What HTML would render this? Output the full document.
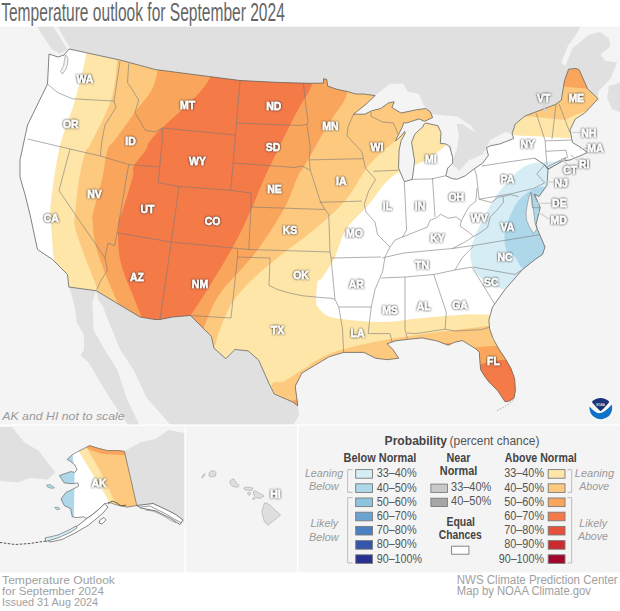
<!DOCTYPE html>
<html><head><meta charset="utf-8"><style>
html,body{margin:0;padding:0;background:#fff;}
body{width:620px;height:611px;position:relative;overflow:hidden;font-family:"Liberation Sans",sans-serif;}
.t{position:absolute;white-space:nowrap;}
</style></head><body>
<svg width="620" height="611" viewBox="0 0 620 611" style="position:absolute;left:0;top:0"><defs><clipPath id="us"><polygon points="49,54 58,57 64,55 69,49 120,60 155,69.5 205,76 240,80.5 280,82.5 310,83.3 323.5,83.1 323.5,78.7 326.8,79.5 327.6,86 336.5,89.2 347.7,91.6 355.8,94 363.9,94 375.2,95.6 365,105 353.5,114.2 364.8,114.2 371.6,110.8 380.6,108.5 388.5,102.9 394.2,101.8 391.9,107.4 401,113 416.7,109.7 425.8,108.5 430.3,111.9 432.6,117.6 424.5,121.3 418.9,118.9 411.6,121.3 406.8,122.9 403.5,122.9 402.7,126.1 399.5,132.6 395.5,140.6 397.1,139.8 401.1,135.8 404.8,131.4 405.2,133.4 401.1,140.6 399.9,146.3 399.1,150 398.5,167.9 404.3,181.7 412.3,179.4 414.6,161 411.6,142.3 414.8,134.2 418.9,130.2 422.9,126.9 423.7,124.5 426,123 438,125.8 441,132.6 440.3,143.4 445.8,143.9 449.7,146.8 452.6,157.4 452.6,163.2 447.7,168.1 445.8,175.8 452.6,178.7 457.4,179.2 465.2,175.8 473.9,169 482.6,163.2 488.4,155.5 486.5,147.7 490.3,145.8 500,143.9 513.7,138.5 512.1,133.7 515.3,124 525,116 555.5,104.4 561.3,100.3 564.5,80.6 568.6,69.2 576,68.4 579.3,70 587.5,88.8 598.1,98.6 589.1,108.5 584.2,113.4 575.2,119.1 570,130 572.5,142.5 580,147 587.5,152.5 582,155 570,160 562.5,161 548,169.4 544.7,164.8 548,169.4 547,185.2 539,196.5 534.5,194.2 540.2,207.7 536,224.5 537.5,229.5 545,247 542.5,254.5 535,259.5 522.5,269.5 505,289.5 492.5,307 488.9,320 489.6,328.8 493.3,339.2 499.2,349.5 505.1,358.3 511,368.6 514.7,379 515.4,390.7 514,398.1 509.5,401 505.1,401.8 497.7,390.7 491.8,384.8 488.9,381.9 484.5,376 480.8,370.1 480.1,364.2 479.3,352.4 475.6,348.7 469.7,345.1 462.4,340.6 455,342.1 448.1,345.2 436.5,340.8 422,337.9 407.4,339.4 395.8,340.8 387.1,343.7 392.9,349.5 398.7,358.2 387.1,359.7 375.5,358.2 363.9,352.4 343.6,352.4 329,356.8 314.5,365.5 302,373 295.2,386.2 297.8,405.8 292.6,401.9 274.3,394 269,383.5 258.6,360 248,350.8 235,349.5 225.8,358.7 214,348.2 211.4,336.4 201,326 190.5,315.5 172.5,317 160,319.5 155,319.5 140,317 96.25,290.75 68.75,287 67.5,274.5 60,267 52.5,259.5 37.5,249.5 30,214.5 25,194.5 20,177 20,160 27.5,125 47.5,84"/></clipPath><filter id="halo" x="-0.3" y="-0.5" width="1.6" height="2"><feGaussianBlur in="SourceAlpha" stdDeviation="0.9" result="b"/><feComponentTransfer in="b" result="b2"><feFuncA type="linear" slope="1.8"/></feComponentTransfer><feFlood flood-color="#333" flood-opacity="0.75"/><feComposite in2="b2" operator="in" result="s"/><feMerge><feMergeNode in="s"/><feMergeNode in="SourceGraphic"/></feMerge></filter><clipPath id="map"><rect x="0" y="26.8" width="620" height="398"/></clipPath></defs><rect x="0" y="0" width="620" height="611" fill="#ffffff"/><rect x="0" y="26.8" width="620" height="546" fill="#f4f4f4"/><g clip-path="url(#map)"><polygon points="57.4,26 65.2,40.3 70.3,48 69,49 120,60 155,69.5 205,76 240,80.5 280,82.5 310,83.3 323.5,83.1 323.5,78.7 326.8,79.5 327.6,86 336.5,89.2 347.7,91.6 355.8,94 363.9,94 375.2,95.6 380,110 440,125 446,176 465,170 486,156 500,142 513,138 515.3,124 525,116 555.5,104.4 561.3,100.3 564.5,80.6 568.6,69.2 561.3,62.6 567.8,46.3 576,34.8 580.9,26" fill="#e0e0e0" /><polygon points="589,34.8 600,32 608.7,38.1 610.4,46.3 600.6,54.5 605.5,61 617,62.6 610.4,79 599,90.5 597.3,97 587.5,88.8 579.3,70 576,68.4 568.6,69.2 564.5,67.6 572.7,47.9" fill="#e0e0e0" /><polygon points="609,86 616,84 620,82 620,112 612,109 607,98" fill="#e0e0e0" /><polygon points="36.8,26 53,26 62.6,41.6 67.7,49.4 60,54 52.3,49.4 45.8,40.3" fill="#e0e0e0" /><polygon points="353.5,114.2 365,105 375.2,95.6 389.7,83.7 403.2,83.7 407.7,91.6 419,93.9 423.5,105.1 430.3,111.9 432.6,117.6 425.8,108.5 416.7,109.7 401,113 391.9,107.4 394.2,101.8 388.5,102.9 380.6,108.5 371.6,110.8 364.8,114.2" fill="#f4f4f4" /><polygon points="402.7,126.1 406.8,122.9 411.6,121.3 418.9,118.9 424.5,121.3 423.7,124.5 422.9,126.9 418.9,130.2 414.8,134.2 411.6,142.3 414.6,161 412.3,179.4 404.3,181.7 398.5,167.9 399.1,150 399.9,146.3 401.1,140.6 405.2,133.4 404.8,131.4 401.1,135.8 397.1,139.8 395.5,140.6 399.5,132.6" fill="#f4f4f4" /><polygon points="424.5,121.3 432.6,117.6 432.6,114.2 457.4,116.4 470.9,125.5 475.4,132.2 462,124 456.5,124 458.9,135.3 457.3,148.2 450.8,164.4 446,175.6 449.2,167.6 453.2,159.5 450.8,145 440.3,143.4 441,132.6 438,125.8 426.5,122.9" fill="#f4f4f4" /><polygon points="445.8,175.8 452.6,178.7 457.4,179.2 465.2,175.8 473.9,169 482.6,163.2 488.4,155.5 486.5,147.7 482.6,154.5 469,160.3 459.4,171 452.6,164.2 447.7,168.1" fill="#f4f4f4" /><polygon points="486.5,147.7 490,140 505.6,132.1 512.1,133.7 513.7,138.5 500,143.9 490.3,145.8" fill="#f4f4f4" /><polygon points="69,287.1 96.1,290.3 95.5,292.9 92.3,301.9 92.9,312.3 93.5,330 104.8,349.7 117.4,370 126.3,397.4 138.4,423.2 140,426 129,426 127,423.2 109.4,397.4 93.2,370 88,362 80.3,355.5 84,350 84,335 76.5,322 75.5,312.3 72.9,299.4" fill="#e0e0e0" /><polygon points="96.25,290.75 140,317 155,319.5 160,319.5 172.5,317 190.5,315.5 201,326 211.4,336.4 214,348.2 225.8,358.7 235,349.5 248,350.8 258.6,360 269,383.5 274.3,394 292.6,401.9 297.8,405.8 299,415 293,426 171,426 169,423.2 146.5,397.4 133.5,370 120.3,349.7 112,330 108,320 102.6,305.8 98,300" fill="#e0e0e0" /></g><g clip-path="url(#us)"><rect x="0" y="0" width="620" height="430" fill="#fee6a9"/><path d="M86,30 C100.3,34.2 87.8,43.3 86,55 C84.2,66.7 78.9,86.3 75,100 C71.1,113.7 65.2,128.7 62.5,137 C59.8,145.3 60.4,143.3 59,150 C57.6,156.7 55.7,167.0 54.2,177 C52.8,187.0 50.8,201.7 50.3,210 C49.8,218.3 50.7,218.8 51.25,227 C51.8,235.2 52.8,252.0 53.75,259.5 C54.7,267.0 66.0,269.9 57,272 C48.0,274.1 9.5,312.3 0,272 C-9.5,231.7 -14.3,70.3 0,30 C14.3,-10.3 71.7,25.8 86,30 Z" fill="#ffffff"/><path d="M620,137 C628.5,166.3 641.3,284.4 620,314 C598.7,343.6 517.8,314.4 492,314.5 C466.2,314.6 476.6,313.9 465,314.5 C453.4,315.1 435.8,316.8 422.5,318 C409.2,319.2 397.9,321.8 385,322 C372.1,322.2 354.7,320.6 345,319.5 C335.3,318.4 331.1,317.6 326.6,315.5 C322.1,313.4 319.7,309.2 318,307 C316.3,304.8 316.3,306.6 316.2,302.4 C316.1,298.2 316.6,285.9 317.5,282 C318.4,278.1 318.6,282.8 321.4,278.8 C324.2,274.8 330.4,266.0 334.5,257.9 C338.6,249.8 340.1,238.9 345.8,230 C351.5,221.1 361.1,213.4 368.7,204.6 C376.3,195.8 381.8,184.7 391.7,177 C401.6,169.3 419.0,164.2 428.3,158.7 C437.6,153.2 440.8,149.0 447.7,144.2 C454.6,139.4 459.3,131.5 470,130 C480.7,128.5 500.1,133.9 511.8,135 C523.5,136.1 530.5,136.0 540,136.5 C549.5,137.0 555.5,137.9 568.8,138 C582.1,138.1 611.5,107.7 620,137 Z" fill="#ffffff"/><path d="M100,30 C158.7,30.0 410.0,16.7 470,30 C530.0,43.3 465.0,95.4 460,110 C455.0,124.6 446.1,115.1 440,117.5 C433.9,119.9 431.0,120.6 423.7,124.4 C416.4,128.2 405.4,133.5 396.2,140.4 C387.0,147.3 377.1,155.7 368.7,165.6 C360.3,175.5 355.0,189.3 345.8,200 C336.6,210.7 323.8,221.3 313.7,230 C303.6,238.7 294.8,244.2 285,252 C275.2,259.8 263.8,268.6 255,277 C246.2,285.4 238.3,293.4 232.4,302.4 C226.5,311.4 222.4,323.8 219.3,331.2 C216.2,338.6 217.2,342.2 214,347 C210.8,351.8 219.0,367.8 200,360 C181.0,352.2 117.1,311.8 100,300 C82.9,288.2 100.0,296.7 97.5,289.5 C95.0,282.3 88.8,267.4 85,257 C81.2,246.6 76.6,234.8 75,227 C73.4,219.2 74.8,218.3 75.5,210 C76.2,201.7 77.7,187.0 79.4,177 C81.2,167.0 84.2,155.3 86,150 C87.8,144.7 85.8,153.3 90,145 C94.2,136.7 106.4,114.7 111,100 C115.6,85.3 116.3,68.7 117.5,57 C118.7,45.3 120.9,34.5 118,30 C115.1,25.5 41.3,30.0 100,30 Z" fill="#fdc97e"/><path d="M150,30 C183.0,30.0 325.0,19.8 358,30 C391.0,40.2 352.2,76.5 348,91 C343.8,105.5 337.3,109.7 333,117 C328.7,124.3 326.7,126.9 322,135 C317.3,143.1 308.7,158.6 304.6,165.6 C300.5,172.6 300.8,170.1 297.5,177 C294.2,183.9 291.9,194.5 285,207 C278.1,219.5 266.9,237.4 256,252 C245.1,266.6 228.0,281.7 219.3,294.5 C210.6,307.3 206.8,321.0 203.6,328.6 C200.4,336.2 208.9,338.1 200,340 C191.1,341.9 162.1,344.2 150,340 C137.9,335.8 132.9,320.8 127.5,314.5 C122.1,308.2 122.5,312.4 117.5,302 C112.5,291.6 101.7,265.7 97.5,252 C93.3,238.3 93.1,227.0 92.5,220 C91.9,213.0 92.2,217.2 93.9,210 C95.6,202.8 100.3,187.0 102.6,177 C104.8,167.0 105.3,156.2 107.4,150 C109.5,143.8 110.4,146.3 115,140 C119.6,133.7 128.3,121.7 135,112 C141.7,102.3 150.8,95.7 155,82 C159.2,68.3 160.8,38.7 160,30 C159.2,21.3 117.0,30.0 150,30 Z" fill="#faa55c"/><path d="M200,30 C219.2,22.1 306.3,21.2 325,30 C343.7,38.8 316.4,70.5 312.3,83 C308.2,95.5 304.4,97.8 300.6,105 C296.8,112.2 295.5,114.0 289.6,126 C283.7,138.0 271.6,162.6 265,177 C258.4,191.4 255.7,200.0 250,212.3 C244.3,224.6 240.5,233.8 230.6,251 C220.7,268.2 200.3,302.3 190.5,315.5 C180.7,328.7 178.8,327.6 172,330 C165.2,332.4 156.6,335.9 150,330 C143.4,324.1 137.5,306.2 132.5,294.5 C127.5,282.8 122.3,271.1 120,259.5 C117.7,247.9 117.9,233.4 118.4,225.2 C118.9,216.9 120.5,218.0 122.9,210 C125.3,202.0 130.8,184.4 132.6,177 C134.4,169.6 131.7,170.3 133.9,165.8 C136.1,161.3 142.5,155.1 146,150 C149.5,144.9 144.3,147.1 155,135 C165.7,122.9 202.5,95.0 210,77.5 C217.5,60.0 180.8,37.9 200,30 Z" fill="#f47a48"/><path d="M290,420 C286.9,414.4 272.5,392.7 271.6,386.2 C270.7,379.7 280.0,383.5 284.7,381 C289.4,378.5 292.6,375.8 300,371.3 C307.4,366.8 316.9,358.7 329,353.9 C341.1,349.1 358.1,345.4 372.6,342.3 C387.1,339.2 399.2,337.4 416.1,335 C433.0,332.6 461.5,329.0 474.2,327.7 C486.9,326.4 489.4,324.9 492.5,327 C495.6,329.1 490.4,337.0 492.5,340 C494.6,343.0 500.4,335.0 505,345 C509.6,355.0 555.8,387.5 520,400 C484.2,412.5 328.3,416.7 290,420 C251.7,423.3 293.1,425.6 290,420 Z" fill="#fdc97e"/><polygon points="285,420 290,401.9 299,398 305,390 320,380 330,370 285,420" fill="#faa55c" /><path d="M440,348 C444.9,336.0 462.3,348.2 469.7,348 C477.1,347.8 478.9,346.9 484.5,346.5 C490.1,346.1 496.0,346.1 503.6,345.8 C511.2,345.6 525.6,332.6 530,345 C534.4,357.4 545.0,407.5 530,420 C515.0,432.5 455.0,432.0 440,420 C425.0,408.0 435.1,360.0 440,348 Z" fill="#faa55c"/><path d="M440,364.5 C446.6,355.2 470.7,364.7 479.3,364.2 C487.9,363.7 487.5,362.0 491.8,361.3 C496.1,360.6 498.7,360.2 505.1,359.8 C511.5,359.4 525.9,349.0 530,359 C534.1,369.0 545.0,409.8 530,420 C515.0,430.2 455.0,429.2 440,420 C425.0,410.8 433.4,373.8 440,364.5 Z" fill="#f47a48"/><polygon points="520,110 525,116 565,120 575,115 620,100 620,30 520,30" fill="#fdc97e" /><polygon points="555,30 620,30 620,89 587.5,88.8 562.9,86.4 555,86" fill="#faa55c" /><path d="M554.8,161.5 C547.8,162.3 535.6,161.4 527.7,164.8 C519.8,168.2 513.0,175.9 507.2,182 C501.4,188.1 496.9,194.7 492.8,201.2 C488.7,207.7 485.7,214.2 482.4,220.8 C479.1,227.4 475.2,234.1 473.2,240.5 C471.2,246.9 469.5,253.4 470.6,259.5 C471.7,265.6 474.3,272.0 480,277 C485.7,282.0 496.7,288.2 505,289.5 C513.3,290.8 520.8,293.2 530,285 C539.2,276.8 551.7,257.5 560,240 C568.3,222.5 578.3,193.3 580,180 C581.7,166.7 574.2,163.1 570,160 C565.8,156.9 561.8,160.7 554.8,161.5 Z" fill="#d6edf5"/><path d="M545.8,187.4 C541.2,185.7 537.2,187.1 532.3,189.7 C527.4,192.3 521.0,196.4 516.5,203.2 C512.0,210.0 506.9,222.5 505.2,230.3 C503.5,238.1 504.7,245.6 506.3,250 C507.9,254.4 511.9,253.8 515,257 C518.1,260.2 520.0,269.0 525,269.5 C530.0,270.0 539.2,271.6 545,260 C550.8,248.4 559.9,212.1 560,200 C560.1,187.9 550.4,189.1 545.8,187.4 Z" fill="#aed8ea"/><polygon points="65.5,55 68,58 67.5,64 66,69 62.5,74 60.5,71.5 63.5,66 64.5,60" fill="#f4f4f4" stroke="#777" stroke-width="0.5"/><polygon points="547,167 555,163 566,157.5 564.5,159.8 556,165 548,169" fill="#d6edf5" stroke="#666" stroke-width="0.6"/><polygon points="530.5,192.5 528.5,199 527,206 526,213 526.5,220 529.5,227 533.5,233.5 537,229 535,223 534,215 533,207 532,199" fill="#f4f4f4" stroke="#777" stroke-width="0.5"/><polygon points="533.5,194.5 541,197.5 539,201 536,199.5" fill="#f4f4f4" stroke="#777" stroke-width="0.5"/><polyline points="47.5,84 57.5,92.5 72.5,98.75 112.5,101 114,101" fill="none" stroke="#7a7a7a" stroke-width="0.6" stroke-linejoin="round" /><polyline points="120,61 114,101" fill="none" stroke="#7a7a7a" stroke-width="0.6" stroke-linejoin="round" /><polyline points="114,101 116,107.5 105,125 102,140 100.3,156" fill="none" stroke="#7a7a7a" stroke-width="0.6" stroke-linejoin="round" /><polyline points="27.5,139 70,149 100.3,156 128.7,164.5 159.7,167.1" fill="none" stroke="#7a7a7a" stroke-width="0.6" stroke-linejoin="round" /><polyline points="128.75,63.5 127.5,82.5 138.75,100 135,112.5 145,130 155,132 162.3,128" fill="none" stroke="#7a7a7a" stroke-width="0.6" stroke-linejoin="round" /><polyline points="162.3,128 162.3,140 159.7,167.1 158.4,182.6" fill="none" stroke="#7a7a7a" stroke-width="0.6" stroke-linejoin="round" /><polyline points="162.3,128 235.5,135" fill="none" stroke="#7a7a7a" stroke-width="0.6" stroke-linejoin="round" /><polyline points="240,80.5 235.5,135" fill="none" stroke="#7a7a7a" stroke-width="0.6" stroke-linejoin="round" /><polyline points="237.5,123 300,125.5 306.9,124.4" fill="none" stroke="#7a7a7a" stroke-width="0.6" stroke-linejoin="round" /><polyline points="235.5,135 233.2,163 230.6,190.3" fill="none" stroke="#7a7a7a" stroke-width="0.6" stroke-linejoin="round" /><polyline points="233.2,163 295,167.5 302,166 310.3,170.2" fill="none" stroke="#7a7a7a" stroke-width="0.6" stroke-linejoin="round" /><polyline points="303.4,83.3 305.8,105.3 308.2,121.5 306.9,124.4 310.3,147.3 309.2,159.9 310.3,170.2 320.6,202.3 325,209.5 328.75,214.5 330,252 331,258 335,299.5" fill="none" stroke="#7a7a7a" stroke-width="0.6" stroke-linejoin="round" /><polyline points="128.7,164.5 117.1,232.9" fill="none" stroke="#7a7a7a" stroke-width="0.6" stroke-linejoin="round" /><polyline points="70,149 59,190.6 105,258" fill="none" stroke="#7a7a7a" stroke-width="0.6" stroke-linejoin="round" /><polyline points="117.1,232.9 114.5,245.8 108,243.2 105,258 107.5,270 100,282 96.25,290.75" fill="none" stroke="#7a7a7a" stroke-width="0.6" stroke-linejoin="round" /><polyline points="117.1,232.9 171.3,242 248.75,249.5 330,252" fill="none" stroke="#7a7a7a" stroke-width="0.6" stroke-linejoin="round" /><polyline points="158.4,182.6 179,186.5 230.6,190.3 251,193 251,207 248.75,249.5" fill="none" stroke="#7a7a7a" stroke-width="0.6" stroke-linejoin="round" /><polyline points="251,207 310,209 325,209.5" fill="none" stroke="#7a7a7a" stroke-width="0.6" stroke-linejoin="round" /><polyline points="179,186.5 171.3,242 160,319.5" fill="none" stroke="#7a7a7a" stroke-width="0.6" stroke-linejoin="round" /><polyline points="237.5,249.5 237.5,257 231,318 190.5,315.5" fill="none" stroke="#7a7a7a" stroke-width="0.6" stroke-linejoin="round" /><polyline points="237.5,257 270,258 269,285.3 276.9,289.3 290,293.2 303,295.8 316.2,297.1 331.9,298.4 335,299.5" fill="none" stroke="#7a7a7a" stroke-width="0.6" stroke-linejoin="round" /><polyline points="335,299.5 338.75,307 371.25,307" fill="none" stroke="#7a7a7a" stroke-width="0.6" stroke-linejoin="round" /><polyline points="338.75,307 342.5,329 343.6,352.4" fill="none" stroke="#7a7a7a" stroke-width="0.6" stroke-linejoin="round" /><polyline points="331,258 381,257" fill="none" stroke="#7a7a7a" stroke-width="0.6" stroke-linejoin="round" /><polyline points="353.5,114.2 348.1,126.7 347,135.8 361.9,151.9 365.3,167.9" fill="none" stroke="#7a7a7a" stroke-width="0.6" stroke-linejoin="round" /><polyline points="309.2,159.9 363,158.7" fill="none" stroke="#7a7a7a" stroke-width="0.6" stroke-linejoin="round" /><polyline points="319.5,202.3 361.9,201.1" fill="none" stroke="#7a7a7a" stroke-width="0.6" stroke-linejoin="round" /><polyline points="365.3,167.9 375.6,179.4 368.7,190.8 364.2,204.6 366,212 375,222 377.5,234.5 390,247 385,257 382.5,272 375,289.5 371.25,307 369.7,320 368.2,333.6 390,333.6 392.9,345.2" fill="none" stroke="#7a7a7a" stroke-width="0.6" stroke-linejoin="round" /><polyline points="373.3,171.3 398.5,170.2" fill="none" stroke="#7a7a7a" stroke-width="0.6" stroke-linejoin="round" /><polyline points="371,112 371,116.4 382.5,122 393.1,122.9 395.5,127.7 397.1,131.8 397.9,134.2" fill="none" stroke="#7a7a7a" stroke-width="0.6" stroke-linejoin="round" /><polyline points="404.3,181.7 406.6,230 402.5,237" fill="none" stroke="#7a7a7a" stroke-width="0.6" stroke-linejoin="round" /><polyline points="412.3,179.4 431.5,178.9 445.8,175.8" fill="none" stroke="#7a7a7a" stroke-width="0.6" stroke-linejoin="round" /><polyline points="432.5,178 435,217" fill="none" stroke="#7a7a7a" stroke-width="0.6" stroke-linejoin="round" /><polyline points="390,247 395,240 402.5,237 415,232 427.5,227 430,220.2 435.9,218.2 440.5,214.3 448.3,218.2 456.2,216.9 461.4,220.8 465.4,213 469.3,206.4 475.8,201.2 477.1,188.1" fill="none" stroke="#7a7a7a" stroke-width="0.6" stroke-linejoin="round" /><polyline points="382,258 403.75,253 452.3,248.5 473.5,245.5 539,234.8" fill="none" stroke="#7a7a7a" stroke-width="0.6" stroke-linejoin="round" /><polyline points="381.25,278 405,277 433.75,274.5 455,270" fill="none" stroke="#7a7a7a" stroke-width="0.6" stroke-linejoin="round" /><polyline points="473.5,246.1 462,258 455,270 472.5,267 515,274.5 522.5,269.5" fill="none" stroke="#7a7a7a" stroke-width="0.6" stroke-linejoin="round" /><polyline points="405,277 405,329 407.4,339.4" fill="none" stroke="#7a7a7a" stroke-width="0.6" stroke-linejoin="round" /><polyline points="433.75,274.5 446.25,312 445.2,329.2" fill="none" stroke="#7a7a7a" stroke-width="0.6" stroke-linejoin="round" /><polyline points="407,333 416.1,333.6 445.2,329.2 455,331 481.5,329.6 488.9,327.4" fill="none" stroke="#7a7a7a" stroke-width="0.6" stroke-linejoin="round" /><polyline points="472.5,268 495,304.5" fill="none" stroke="#7a7a7a" stroke-width="0.6" stroke-linejoin="round" /><polyline points="461.4,220.8 460.1,226.1 469.3,232.6 473.2,236.5 478.4,233.9 487.6,227.4 490.2,216.9 496.8,210.4 503.3,202.5 503.3,197.3" fill="none" stroke="#7a7a7a" stroke-width="0.6" stroke-linejoin="round" /><polyline points="452.3,248.5 465.4,241.8 473.2,236.5" fill="none" stroke="#7a7a7a" stroke-width="0.6" stroke-linejoin="round" /><polyline points="479.1,199.2 491.5,202.5 498.1,197.3 505.9,196 510,194.6 518.7,196.5" fill="none" stroke="#7a7a7a" stroke-width="0.6" stroke-linejoin="round" /><polyline points="474.4,169 476.5,175 479.1,199.2 510,194 533.4,188.5" fill="none" stroke="#7a7a7a" stroke-width="0.6" stroke-linejoin="round" /><polyline points="481.6,166.1 500,163.2 534.5,158.1 544.7,164.8" fill="none" stroke="#7a7a7a" stroke-width="0.6" stroke-linejoin="round" /><polyline points="534.5,158.1 544.7,164.8 536.8,173.9 544.7,182.9 533.4,188.5" fill="none" stroke="#7a7a7a" stroke-width="0.6" stroke-linejoin="round" /><polyline points="531.1,191.9 532.3,207.7 540.2,207.7" fill="none" stroke="#7a7a7a" stroke-width="0.6" stroke-linejoin="round" /><polyline points="536.3,113.4 545.2,140.9 545.8,151.3 547,164.8" fill="none" stroke="#7a7a7a" stroke-width="0.6" stroke-linejoin="round" /><polyline points="556,104 552,139" fill="none" stroke="#7a7a7a" stroke-width="0.6" stroke-linejoin="round" /><polyline points="558.9,103.6 569.7,132" fill="none" stroke="#7a7a7a" stroke-width="0.6" stroke-linejoin="round" /><polyline points="545.2,140.9 572,140" fill="none" stroke="#7a7a7a" stroke-width="0.6" stroke-linejoin="round" /><polyline points="545.8,151.3 566.1,150.2 567.5,158" fill="none" stroke="#7a7a7a" stroke-width="0.6" stroke-linejoin="round" /></g><polygon points="49,54 58,57 64,55 69,49 120,60 155,69.5 205,76 240,80.5 280,82.5 310,83.3 323.5,83.1 323.5,78.7 326.8,79.5 327.6,86 336.5,89.2 347.7,91.6 355.8,94 363.9,94 375.2,95.6 365,105 353.5,114.2 364.8,114.2 371.6,110.8 380.6,108.5 388.5,102.9 394.2,101.8 391.9,107.4 401,113 416.7,109.7 425.8,108.5 430.3,111.9 432.6,117.6 424.5,121.3 418.9,118.9 411.6,121.3 406.8,122.9 403.5,122.9 402.7,126.1 399.5,132.6 395.5,140.6 397.1,139.8 401.1,135.8 404.8,131.4 405.2,133.4 401.1,140.6 399.9,146.3 399.1,150 398.5,167.9 404.3,181.7 412.3,179.4 414.6,161 411.6,142.3 414.8,134.2 418.9,130.2 422.9,126.9 423.7,124.5 426,123 438,125.8 441,132.6 440.3,143.4 445.8,143.9 449.7,146.8 452.6,157.4 452.6,163.2 447.7,168.1 445.8,175.8 452.6,178.7 457.4,179.2 465.2,175.8 473.9,169 482.6,163.2 488.4,155.5 486.5,147.7 490.3,145.8 500,143.9 513.7,138.5 512.1,133.7 515.3,124 525,116 555.5,104.4 561.3,100.3 564.5,80.6 568.6,69.2 576,68.4 579.3,70 587.5,88.8 598.1,98.6 589.1,108.5 584.2,113.4 575.2,119.1 570,130 572.5,142.5 580,147 587.5,152.5 582,155 570,160 562.5,161 548,169.4 544.7,164.8 548,169.4 547,185.2 539,196.5 534.5,194.2 540.2,207.7 536,224.5 537.5,229.5 545,247 542.5,254.5 535,259.5 522.5,269.5 505,289.5 492.5,307 488.9,320 489.6,328.8 493.3,339.2 499.2,349.5 505.1,358.3 511,368.6 514.7,379 515.4,390.7 514,398.1 509.5,401 505.1,401.8 497.7,390.7 491.8,384.8 488.9,381.9 484.5,376 480.8,370.1 480.1,364.2 479.3,352.4 475.6,348.7 469.7,345.1 462.4,340.6 455,342.1 448.1,345.2 436.5,340.8 422,337.9 407.4,339.4 395.8,340.8 387.1,343.7 392.9,349.5 398.7,358.2 387.1,359.7 375.5,358.2 363.9,352.4 343.6,352.4 329,356.8 314.5,365.5 302,373 295.2,386.2 297.8,405.8 292.6,401.9 274.3,394 269,383.5 258.6,360 248,350.8 235,349.5 225.8,358.7 214,348.2 211.4,336.4 201,326 190.5,315.5 172.5,317 160,319.5 155,319.5 140,317 96.25,290.75 68.75,287 67.5,274.5 60,267 52.5,259.5 37.5,249.5 30,214.5 25,194.5 20,177 20,160 27.5,125 47.5,84" fill="none" stroke="#666" stroke-width="0.8" stroke-linejoin="round"/><polyline points="497,410.5 503,407.5 509,404 513.5,400" fill="none" stroke="#888" stroke-width="0.7" stroke-linejoin="round" stroke-dasharray="1.5,1.5"/><polyline points="543,182 553.6,182" fill="none" stroke="#cfcfcf" stroke-width="1.2" stroke-linejoin="round" /><polyline points="536.4,203.3 551.3,203.3" fill="none" stroke="#cfcfcf" stroke-width="1.2" stroke-linejoin="round" /><polyline points="537.5,211.3 549,219.3" fill="none" stroke="#cfcfcf" stroke-width="1.2" stroke-linejoin="round" /><polyline points="561.6,158 567.3,164.8" fill="none" stroke="#cfcfcf" stroke-width="1.2" stroke-linejoin="round" /><polyline points="570.6,154.7 577.4,160.3" fill="none" stroke="#cfcfcf" stroke-width="1.2" stroke-linejoin="round" /><polyline points="579.7,149 588.7,147.9" fill="none" stroke="#cfcfcf" stroke-width="1.2" stroke-linejoin="round" /><polyline points="572,132.5 580,132.5" fill="none" stroke="#cfcfcf" stroke-width="1.2" stroke-linejoin="round" /><polyline points="543.8,101.5 544.5,112" fill="none" stroke="#cfcfcf" stroke-width="1.2" stroke-linejoin="round" /><g font-family="Liberation Sans, sans-serif" font-weight="bold" font-size="10.5" text-anchor="middle"><text x="85" y="83.4" fill="#fff" stroke="#fff" stroke-width="0.3" filter="url(#halo)">WA</text><text x="70.75" y="127.7" fill="#fff" stroke="#fff" stroke-width="0.3" filter="url(#halo)">OR</text><text x="130.5" y="145.4" fill="#fff" stroke="#fff" stroke-width="0.3" filter="url(#halo)">ID</text><text x="187.5" y="109.1" fill="#fff" stroke="#fff" stroke-width="0.3" filter="url(#halo)">MT</text><text x="273.75" y="109.9" fill="#fff" stroke="#fff" stroke-width="0.3" filter="url(#halo)">ND</text><text x="273" y="150.7" fill="#fff" stroke="#fff" stroke-width="0.3" filter="url(#halo)">SD</text><text x="197.5" y="165.4" fill="#fff" stroke="#fff" stroke-width="0.3" filter="url(#halo)">WY</text><text x="274.5" y="192.6" fill="#fff" stroke="#fff" stroke-width="0.3" filter="url(#halo)">NE</text><text x="94.5" y="198.4" fill="#fff" stroke="#fff" stroke-width="0.3" filter="url(#halo)">NV</text><text x="147.5" y="213.4" fill="#fff" stroke="#fff" stroke-width="0.3" filter="url(#halo)">UT</text><text x="51.25" y="222.4" fill="#fff" stroke="#fff" stroke-width="0.3" filter="url(#halo)">CA</text><text x="212.5" y="225.2" fill="#fff" stroke="#fff" stroke-width="0.3" filter="url(#halo)">CO</text><text x="290" y="234.4" fill="#fff" stroke="#fff" stroke-width="0.3" filter="url(#halo)">KS</text><text x="137" y="280.7" fill="#fff" stroke="#fff" stroke-width="0.3" filter="url(#halo)">AZ</text><text x="200" y="288.0" fill="#fff" stroke="#fff" stroke-width="0.3" filter="url(#halo)">NM</text><text x="301" y="278.9" fill="#fff" stroke="#fff" stroke-width="0.3" filter="url(#halo)">OK</text><text x="277.5" y="334.4" fill="#fff" stroke="#fff" stroke-width="0.3" filter="url(#halo)">TX</text><text x="330.5" y="130.2" fill="#fff" stroke="#fff" stroke-width="0.3" filter="url(#halo)">MN</text><text x="377" y="150.7" fill="#fff" stroke="#fff" stroke-width="0.3" filter="url(#halo)">WI</text><text x="430.75" y="163.2" fill="#fff" stroke="#fff" stroke-width="0.3" filter="url(#halo)">MI</text><text x="341.25" y="185.2" fill="#fff" stroke="#fff" stroke-width="0.3" filter="url(#halo)">IA</text><text x="387.5" y="210.2" fill="#fff" stroke="#fff" stroke-width="0.3" filter="url(#halo)">IL</text><text x="420" y="210.2" fill="#fff" stroke="#fff" stroke-width="0.3" filter="url(#halo)">IN</text><text x="456.25" y="201.4" fill="#fff" stroke="#fff" stroke-width="0.3" filter="url(#halo)">OH</text><text x="354.5" y="236.9" fill="#fff" stroke="#fff" stroke-width="0.3" filter="url(#halo)">MO</text><text x="437.5" y="241.9" fill="#fff" stroke="#fff" stroke-width="0.3" filter="url(#halo)">KY</text><text x="422" y="268.9" fill="#fff" stroke="#fff" stroke-width="0.3" filter="url(#halo)">TN</text><text x="356.25" y="287.6" fill="#fff" stroke="#fff" stroke-width="0.3" filter="url(#halo)">AR</text><text x="390" y="313.9" fill="#fff" stroke="#fff" stroke-width="0.3" filter="url(#halo)">MS</text><text x="423.75" y="310.1" fill="#fff" stroke="#fff" stroke-width="0.3" filter="url(#halo)">AL</text><text x="460" y="308.9" fill="#fff" stroke="#fff" stroke-width="0.3" filter="url(#halo)">GA</text><text x="357.5" y="337.1" fill="#fff" stroke="#fff" stroke-width="0.3" filter="url(#halo)">LA</text><text x="493.5" y="365.1" fill="#fff" stroke="#fff" stroke-width="0.3" filter="url(#halo)">FL</text><text x="507.4" y="183.2" fill="#fff" stroke="#fff" stroke-width="0.3" filter="url(#halo)">PA</text><text x="561.2" y="186.6" fill="#fff" stroke="#fff" stroke-width="0.3" filter="url(#halo)">NJ</text><text x="559.4" y="206.5" fill="#fff" stroke="#fff" stroke-width="0.3" filter="url(#halo)">DE</text><text x="558.7" y="223.9" fill="#fff" stroke="#fff" stroke-width="0.3" filter="url(#halo)">MD</text><text x="479.2" y="222.3" fill="#fff" stroke="#fff" stroke-width="0.3" filter="url(#halo)">WV</text><text x="507.4" y="231.4" fill="#fff" stroke="#fff" stroke-width="0.3" filter="url(#halo)">VA</text><text x="505" y="260.9" fill="#fff" stroke="#fff" stroke-width="0.3" filter="url(#halo)">NC</text><text x="491.25" y="286.4" fill="#fff" stroke="#fff" stroke-width="0.3" filter="url(#halo)">SC</text><text x="527.7" y="147.8" fill="#fff" stroke="#fff" stroke-width="0.3" filter="url(#halo)">NY</text><text x="543.75" y="101.9" fill="#fff" stroke="#fff" stroke-width="0.3" filter="url(#halo)">VT</text><text x="576.25" y="101.9" fill="#fff" stroke="#fff" stroke-width="0.3" filter="url(#halo)">ME</text><text x="588.75" y="137.4" fill="#fff" stroke="#fff" stroke-width="0.3" filter="url(#halo)">NH</text><text x="595.5" y="151.6" fill="#fff" stroke="#fff" stroke-width="0.3" filter="url(#halo)">MA</text><text x="584.2" y="168.1" fill="#fff" stroke="#fff" stroke-width="0.3" filter="url(#halo)">RI</text><text x="570.2" y="173.8" fill="#fff" stroke="#fff" stroke-width="0.3" filter="url(#halo)">CT</text></g><g transform="translate(600.6,409)"><circle r="12.2" fill="#fff" opacity="0.5"/><path d="M11.1,-4.6 A11.4,11.4 0 1 1 -11.1,-2.6 Q-6,3.2 -2,4.3 Q4,4 11.1,-4.6Z" fill="#0f72c6"/><path d="M-8.8,-6.9 A11.4,11.4 0 0 1 8.8,-6.9 Q3.5,-0.5 0,2.3 Q-3.5,-0.5 -8.8,-6.9Z" fill="#1c3578"/><text x="0" y="-2.8" font-family="Liberation Sans, sans-serif" font-size="3.3" font-weight="bold" fill="#dfe4f0" text-anchor="middle" textLength="8.5" lengthAdjust="spacingAndGlyphs">NOAA</text></g><text x="2.3" y="419.9" font-family="Liberation Sans, sans-serif" font-style="italic" font-size="11.8" fill="#9a9a9a" textLength="122.3" lengthAdjust="spacingAndGlyphs">AK and HI not to scale</text><rect x="0" y="424.5" width="620" height="1.3" fill="#fff"/><text x="1.2" y="20.8" font-family="Liberation Sans, sans-serif" font-size="25.4" font-weight="normal" font-style="normal" fill="#666" text-anchor="start" textLength="283.6" lengthAdjust="spacingAndGlyphs">Temperature outlook for September 2024</text><rect x="184.5" y="425" width="1.3" height="148" fill="#fff"/><rect x="297" y="425" width="1.3" height="148" fill="#fff"/><rect x="0" y="572.5" width="620" height="40" fill="#fff"/><defs><clipPath id="akp"><rect x="0" y="425.8" width="184.5" height="146.7"/></clipPath></defs><g clip-path="url(#akp)"><polygon points="0,427 12,427 24,442 39,451 48,463 55.5,472 48,479.5 30,478 18,482.5 0,481" fill="#e0e0e0" /><polygon points="124.4,451.3 141,442 156,439 168,430 184.5,433 184.5,523 156,505 136.5,505" fill="#e0e0e0" /><defs><clipPath id="akc"><polygon points="76.8,452.1 83.2,448.9 89.7,445.6 97.7,448.1 107.4,450.5 118.7,450.5 124.4,451.3 136.8,505.5 127.1,507.1 115.8,504.7 109.4,502.3 104.5,503.9 98,510 92,515 86.8,518.4 83.5,516.8 77.1,517.6 72.3,516.8 70.6,508.7 64.2,505.5 61,499 65.8,492.6 72.3,489.4 78.7,486.1 77.9,482.9 72.3,483.7 64.2,482.9 59.4,475.6 70.6,471.6 74.7,472.4 77.1,470 75,465 70,461 67.1,459.4 72,455"/></clipPath></defs><g clip-path="url(#akc)"><rect x="0" y="425" width="185" height="150" fill="#fff"/><polygon points="0,440 70,440 74.7,470 73.9,515.2 73,530 0,530" fill="#aed8ea" /><polygon points="554.8,161.5 527.7,164.8 507.2,182 492.8,201.2 482.4,220.8 473.2,240.5 470.6,259.5 480,277 505,289.5 530,285 560,240 580,180 570,160" fill="#d6edf5" /><polygon points="72,440 90,470 107.7,499 111,508.7 200,520 200,430 70,430" fill="#fee6a9" /><polygon points="82,440 99.7,470 114.2,500.6 117.4,507.1 200,520 200,430 80,430" fill="#fdc97e" /><polygon points="80,430 200,430 200,455.3 124.4,455.3 101,453.7 88,448.9" fill="#faa55c" /></g><polygon points="76.8,452.1 83.2,448.9 89.7,445.6 97.7,448.1 107.4,450.5 118.7,450.5 124.4,451.3 136.8,505.5 127.1,507.1 115.8,504.7 109.4,502.3 104.5,503.9 98,510 92,515 86.8,518.4 83.5,516.8 77.1,517.6 72.3,516.8 70.6,508.7 64.2,505.5 61,499 65.8,492.6 72.3,489.4 78.7,486.1 77.9,482.9 72.3,483.7 64.2,482.9 59.4,475.6 70.6,471.6 74.7,472.4 77.1,470 75,465 70,461 67.1,459.4 72,455" fill="none" stroke="#666" stroke-width="0.7"/><polygon points="136.8,505.5 153,503.5 165,509 175,514 183,520 180,524.5 170,518 156,511 141,508" fill="#fff" stroke="#555" stroke-width="0.8"/><polygon points="104.5,503.9 98,510 92,515 86.8,518.4 80,524 70,531 58,537 48,540.5 50,542 62,539.5 75,533 88,525.5 96,519 103,513 108,507" fill="#fff" stroke="#555" stroke-width="0.7" stroke-linejoin="round"/><polygon points="45,538 58,535 70,529.5 76,526 77,528 71,532 59,537.5 46,541.5" fill="#d6edf5" stroke="#555" stroke-width="0.6" stroke-linejoin="round"/><polygon points="100,520 104,517.5 106,520 102,524 99,523" fill="#fff" stroke="#555" stroke-width="0.7"/><polyline points="140,507 150,506 158,510 166,514 174,519 181,522.5" fill="none" stroke="#555" stroke-width="0.6" stroke-linejoin="round" /><polyline points="145,510 153,511 162,515 170,520 176,523" fill="none" stroke="#666" stroke-width="0.5" stroke-linejoin="round" /><polyline points="108,504 112,501 117,503 121,506 126,505" fill="none" stroke="#444" stroke-width="0.8" stroke-linejoin="round" /><polyline points="46,541 30,543.5 15,544.5 0,542.5" fill="none" stroke="#555" stroke-width="1.0" stroke-linejoin="round" stroke-dasharray="2.5,1.5"/><polygon points="46.5,485 50,484.5 54.5,487.5 53,488.5 48,487.5" fill="#aed8ea" stroke="#777" stroke-width="0.5"/><polygon points="54.5,507.5 58,507 60.2,509 57,509.8" fill="#aed8ea" stroke="#777" stroke-width="0.5"/></g><text x="99" y="486.8" font-family="Liberation Sans, sans-serif" font-weight="bold" font-size="10.5" text-anchor="middle" fill="#fff" stroke="#fff" stroke-width="0.3" filter="url(#halo)">AK</text><polygon points="209,473 211,471 214.5,470.9 216,472.5 215.5,476 212,477.1 209,476" fill="#dedede" stroke="#9a9a9a" stroke-width="0.5" stroke-linejoin="round"/><polygon points="201.5,477.5 203.5,474.5 205.2,473.8 204,476.5 202,478.1" fill="#dedede" stroke="#9a9a9a" stroke-width="0.5" stroke-linejoin="round"/><polygon points="229.8,481 232.5,479 234,478.9 236,482.5 239.3,485.5 237.5,487.3 233,486.5 230.5,484.5" fill="#dedede" stroke="#9a9a9a" stroke-width="0.5" stroke-linejoin="round"/><polygon points="243.6,488 247,486.9 253,488 252,490.5 245,490" fill="#dedede" stroke="#9a9a9a" stroke-width="0.5" stroke-linejoin="round"/><polygon points="247.3,493 249.5,491.9 250.9,494 249,495.6" fill="#dedede" stroke="#9a9a9a" stroke-width="0.5" stroke-linejoin="round"/><polygon points="253,492 255,490.5 258,492.5 261,494 264,496 260,498.5 256,497.5 254,495" fill="#dedede" stroke="#9a9a9a" stroke-width="0.5" stroke-linejoin="round"/><polygon points="252.3,498.5 254.5,497.5 255.2,498.8 253,499.5" fill="#dedede" stroke="#9a9a9a" stroke-width="0.5" stroke-linejoin="round"/><polygon points="261.8,511 264.5,503 266,502.8 270,505 275,510 280.6,515 277,518 272,522 268,525.3 264.5,522 263,517" fill="#dedede" stroke="#9a9a9a" stroke-width="0.5" stroke-linejoin="round"/><text x="275.5" y="497.9" font-family="Liberation Sans, sans-serif" font-weight="bold" font-size="10.5" text-anchor="middle" fill="#fff" stroke="#fff" stroke-width="0.3" filter="url(#halo)">HI</text><text x="384.6" y="444.6" font-family="Liberation Sans, sans-serif" font-size="13" font-weight="bold" font-style="normal" fill="#444" text-anchor="start" textLength="62.5" lengthAdjust="spacingAndGlyphs">Probability</text><text x="449.5" y="444.6" font-family="Liberation Sans, sans-serif" font-size="13" font-weight="normal" font-style="normal" fill="#555" text-anchor="start" textLength="89.9" lengthAdjust="spacingAndGlyphs">(percent chance)</text><text x="343.6" y="462.2" font-family="Liberation Sans, sans-serif" font-size="12" font-weight="bold" font-style="normal" fill="#444" text-anchor="start" textLength="72.8" lengthAdjust="spacingAndGlyphs">Below Normal</text><text x="504.8" y="461.8" font-family="Liberation Sans, sans-serif" font-size="12" font-weight="bold" font-style="normal" fill="#444" text-anchor="start" textLength="72" lengthAdjust="spacingAndGlyphs">Above Normal</text><text x="446.4" y="461.9" font-family="Liberation Sans, sans-serif" font-size="12" font-weight="bold" font-style="normal" fill="#444" text-anchor="start" textLength="24" lengthAdjust="spacingAndGlyphs">Near</text><text x="439.8" y="475.1" font-family="Liberation Sans, sans-serif" font-size="12" font-weight="bold" font-style="normal" fill="#444" text-anchor="start" textLength="37.6" lengthAdjust="spacingAndGlyphs">Normal</text><text x="446.4" y="525.9" font-family="Liberation Sans, sans-serif" font-size="12" font-weight="bold" font-style="normal" fill="#444" text-anchor="start" textLength="28.6" lengthAdjust="spacingAndGlyphs">Equal</text><text x="438.8" y="539.1" font-family="Liberation Sans, sans-serif" font-size="12" font-weight="bold" font-style="normal" fill="#444" text-anchor="start" textLength="42.9" lengthAdjust="spacingAndGlyphs">Chances</text><rect x="355.7" y="469.6" width="16.8" height="8.6" fill="#d6edf5" stroke="#7a7a7a" stroke-width="0.9"/><rect x="548.2" y="469.6" width="16.8" height="8.6" fill="#fee6a9" stroke="#7a7a7a" stroke-width="0.9"/><text x="376.7" y="477.3" font-family="Liberation Sans, sans-serif" font-size="12" font-weight="normal" font-style="normal" fill="#555" text-anchor="start" textLength="39.9" lengthAdjust="spacingAndGlyphs">33–40%</text><text x="504.20000000000005" y="477.3" font-family="Liberation Sans, sans-serif" font-size="12" font-weight="normal" font-style="normal" fill="#555" text-anchor="start" textLength="39.9" lengthAdjust="spacingAndGlyphs">33–40%</text><rect x="355.7" y="483.8" width="16.8" height="8.6" fill="#aed8ea" stroke="#7a7a7a" stroke-width="0.9"/><rect x="548.2" y="483.8" width="16.8" height="8.6" fill="#fdc97e" stroke="#7a7a7a" stroke-width="0.9"/><text x="376.7" y="491.5" font-family="Liberation Sans, sans-serif" font-size="12" font-weight="normal" font-style="normal" fill="#555" text-anchor="start" textLength="39.9" lengthAdjust="spacingAndGlyphs">40–50%</text><text x="504.20000000000005" y="491.5" font-family="Liberation Sans, sans-serif" font-size="12" font-weight="normal" font-style="normal" fill="#555" text-anchor="start" textLength="39.9" lengthAdjust="spacingAndGlyphs">40–50%</text><rect x="355.7" y="498.0" width="16.8" height="8.6" fill="#8fc4df" stroke="#7a7a7a" stroke-width="0.9"/><rect x="548.2" y="498.0" width="16.8" height="8.6" fill="#faa55c" stroke="#7a7a7a" stroke-width="0.9"/><text x="376.7" y="505.7" font-family="Liberation Sans, sans-serif" font-size="12" font-weight="normal" font-style="normal" fill="#555" text-anchor="start" textLength="39.9" lengthAdjust="spacingAndGlyphs">50–60%</text><text x="504.20000000000005" y="505.7" font-family="Liberation Sans, sans-serif" font-size="12" font-weight="normal" font-style="normal" fill="#555" text-anchor="start" textLength="39.9" lengthAdjust="spacingAndGlyphs">50–60%</text><rect x="355.7" y="512.2" width="16.8" height="8.6" fill="#6aa2d0" stroke="#7a7a7a" stroke-width="0.9"/><rect x="548.2" y="512.2" width="16.8" height="8.6" fill="#f47a48" stroke="#7a7a7a" stroke-width="0.9"/><text x="376.7" y="519.9" font-family="Liberation Sans, sans-serif" font-size="12" font-weight="normal" font-style="normal" fill="#555" text-anchor="start" textLength="39.9" lengthAdjust="spacingAndGlyphs">60–70%</text><text x="504.20000000000005" y="519.9" font-family="Liberation Sans, sans-serif" font-size="12" font-weight="normal" font-style="normal" fill="#555" text-anchor="start" textLength="39.9" lengthAdjust="spacingAndGlyphs">60–70%</text><rect x="355.7" y="526.4" width="16.8" height="8.6" fill="#4a80c2" stroke="#7a7a7a" stroke-width="0.9"/><rect x="548.2" y="526.4" width="16.8" height="8.6" fill="#e5513b" stroke="#7a7a7a" stroke-width="0.9"/><text x="376.7" y="534.1" font-family="Liberation Sans, sans-serif" font-size="12" font-weight="normal" font-style="normal" fill="#555" text-anchor="start" textLength="39.9" lengthAdjust="spacingAndGlyphs">70–80%</text><text x="504.20000000000005" y="534.1" font-family="Liberation Sans, sans-serif" font-size="12" font-weight="normal" font-style="normal" fill="#555" text-anchor="start" textLength="39.9" lengthAdjust="spacingAndGlyphs">70–80%</text><rect x="355.7" y="540.6" width="16.8" height="8.6" fill="#3656ab" stroke="#7a7a7a" stroke-width="0.9"/><rect x="548.2" y="540.6" width="16.8" height="8.6" fill="#cb2a2f" stroke="#7a7a7a" stroke-width="0.9"/><text x="376.7" y="548.3" font-family="Liberation Sans, sans-serif" font-size="12" font-weight="normal" font-style="normal" fill="#555" text-anchor="start" textLength="39.9" lengthAdjust="spacingAndGlyphs">80–90%</text><text x="504.20000000000005" y="548.3" font-family="Liberation Sans, sans-serif" font-size="12" font-weight="normal" font-style="normal" fill="#555" text-anchor="start" textLength="39.9" lengthAdjust="spacingAndGlyphs">80–90%</text><rect x="355.7" y="554.8" width="16.8" height="8.6" fill="#283190" stroke="#7a7a7a" stroke-width="0.9"/><rect x="548.2" y="554.8" width="16.8" height="8.6" fill="#a1042c" stroke="#7a7a7a" stroke-width="0.9"/><text x="376.7" y="562.5" font-family="Liberation Sans, sans-serif" font-size="12" font-weight="normal" font-style="normal" fill="#555" text-anchor="start" textLength="45.4" lengthAdjust="spacingAndGlyphs">90–100%</text><text x="498.70000000000005" y="562.5" font-family="Liberation Sans, sans-serif" font-size="12" font-weight="normal" font-style="normal" fill="#555" text-anchor="start" textLength="45.4" lengthAdjust="spacingAndGlyphs">90–100%</text><rect x="430.9" y="484.1" width="16.5" height="8.3" fill="#c9c9c9" stroke="#7a7a7a" stroke-width="0.9"/><text x="451.1" y="491.2" font-family="Liberation Sans, sans-serif" font-size="12" font-weight="normal" font-style="normal" fill="#555" text-anchor="start" textLength="40.1" lengthAdjust="spacingAndGlyphs">33–40%</text><rect x="430.9" y="498.2" width="16.5" height="8.3" fill="#a6a6a6" stroke="#7a7a7a" stroke-width="0.9"/><text x="451.1" y="505.3" font-family="Liberation Sans, sans-serif" font-size="12" font-weight="normal" font-style="normal" fill="#555" text-anchor="start" textLength="40.1" lengthAdjust="spacingAndGlyphs">40–50%</text><rect x="451.6" y="546.2" width="17.3" height="8.0" fill="#fff" stroke="#7a7a7a" stroke-width="0.9"/><polyline points="352.6,469.7 347.7,469.7 347.7,492.3 352.6,492.3" fill="none" stroke="#b5b5b5" stroke-width="0.9"/><polyline points="352.6,497.7 347.7,497.7 347.7,562.9 352.6,562.9" fill="none" stroke="#b5b5b5" stroke-width="0.9"/><polyline points="567.6,469.7 571.7,469.7 571.7,492.3 567.6,492.3" fill="none" stroke="#b5b5b5" stroke-width="0.9"/><polyline points="567.6,497.7 571.7,497.7 571.7,562.9 567.6,562.9" fill="none" stroke="#b5b5b5" stroke-width="0.9"/><text x="304.9" y="476.6" font-family="Liberation Sans, sans-serif" font-size="11" font-weight="normal" font-style="italic" fill="#9a9a9a" text-anchor="start" textLength="38.3" lengthAdjust="spacingAndGlyphs">Leaning</text><text x="309" y="490.4" font-family="Liberation Sans, sans-serif" font-size="11" font-weight="normal" font-style="italic" fill="#9a9a9a" text-anchor="start" textLength="29.7" lengthAdjust="spacingAndGlyphs">Below</text><text x="310.5" y="526.9" font-family="Liberation Sans, sans-serif" font-size="11" font-weight="normal" font-style="italic" fill="#9a9a9a" text-anchor="start" textLength="27.8" lengthAdjust="spacingAndGlyphs">Likely</text><text x="309" y="540.5" font-family="Liberation Sans, sans-serif" font-size="11" font-weight="normal" font-style="italic" fill="#9a9a9a" text-anchor="start" textLength="29.7" lengthAdjust="spacingAndGlyphs">Below</text><text x="574.8" y="476.7" font-family="Liberation Sans, sans-serif" font-size="11" font-weight="normal" font-style="italic" fill="#9a9a9a" text-anchor="start" textLength="39.3" lengthAdjust="spacingAndGlyphs">Leaning</text><text x="579.3" y="490.4" font-family="Liberation Sans, sans-serif" font-size="11" font-weight="normal" font-style="italic" fill="#9a9a9a" text-anchor="start" textLength="29.9" lengthAdjust="spacingAndGlyphs">Above</text><text x="579.3" y="526.8" font-family="Liberation Sans, sans-serif" font-size="11" font-weight="normal" font-style="italic" fill="#9a9a9a" text-anchor="start" textLength="27.8" lengthAdjust="spacingAndGlyphs">Likely</text><text x="577.9" y="540.1" font-family="Liberation Sans, sans-serif" font-size="11" font-weight="normal" font-style="italic" fill="#9a9a9a" text-anchor="start" textLength="30" lengthAdjust="spacingAndGlyphs">Above</text><text x="2.1" y="583.9" font-family="Liberation Sans, sans-serif" font-size="11.6" font-weight="normal" font-style="normal" fill="#a0a0a0" text-anchor="start" textLength="112.8" lengthAdjust="spacingAndGlyphs">Temperature Outlook</text><text x="2.1" y="594.9" font-family="Liberation Sans, sans-serif" font-size="11.6" font-weight="normal" font-style="normal" fill="#a0a0a0" text-anchor="start" textLength="101.7" lengthAdjust="spacingAndGlyphs">for September 2024</text><text x="2.1" y="605.6" font-family="Liberation Sans, sans-serif" font-size="11.6" font-weight="normal" font-style="normal" fill="#a0a0a0" text-anchor="start" textLength="96" lengthAdjust="spacingAndGlyphs">Issued 31 Aug 2024</text><text x="456.8" y="584.1" font-family="Liberation Sans, sans-serif" font-size="12" font-weight="normal" font-style="normal" fill="#a0a0a0" text-anchor="start" textLength="160.9" lengthAdjust="spacingAndGlyphs">NWS Climate Prediction Center</text><text x="456.8" y="594.8" font-family="Liberation Sans, sans-serif" font-size="12" font-weight="normal" font-style="normal" fill="#a0a0a0" text-anchor="start" textLength="134.2" lengthAdjust="spacingAndGlyphs">Map by NOAA Climate.gov</text></svg>

</body></html>
